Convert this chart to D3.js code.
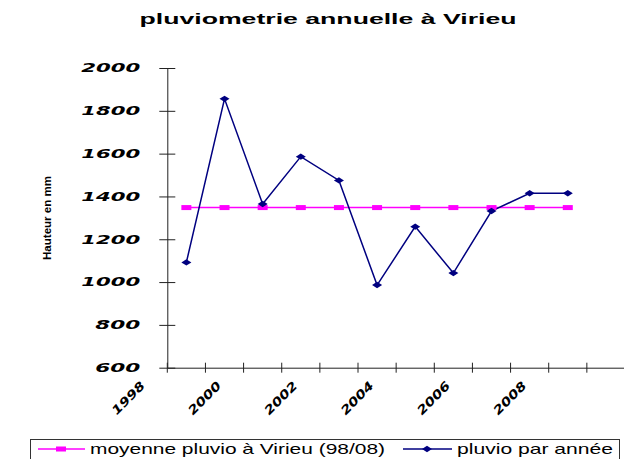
<!DOCTYPE html>
<html>
<head>
<meta charset="utf-8">
<script src="https://cdn.jsdelivr.net/npm/d3@7"></script>
<style>
  body { margin: 0; background: #fff; }
  svg { display: block; font-family: "Liberation Sans", Arial, sans-serif; }
</style>
</head>
<body>
<div id="chart"></div>
<script>
// categories (2009 is an empty slot on the axis)
const years = [1998, 1999, 2000, 2001, 2002, 2003, 2004, 2005, 2006, 2007, 2008, 2009];
const yearLabels = ["1998", "2000", "2002", "2004", "2006", "2008"];
// series
const pluvioYears = [1998, 1999, 2000, 2001, 2002, 2003, 2004, 2005, 2006, 2007, 2008];
const pluvioParAnnee = [1092, 1856, 1365, 1586, 1475, 986, 1259, 1042, 1332, 1415, 1415];
const moyenne = [1348, 1348, 1348, 1348, 1348, 1348, 1348, 1348, 1348, 1348, 1348];
const yTicks = [600, 800, 1000, 1200, 1400, 1600, 1800, 2000];

const width = 624, height = 459;
const plotLeft = 167.3, plotRight = 625, plotTop = 68, plotBottom = 367.7;

let svg = d3.select("#chart")
    .append("svg")
    .attr("width", width)
    .attr("height", height);

let x = d3.scaleBand()
    .domain(years)
    .range([plotLeft, plotRight])
    .padding(0);
const bw = x.bandwidth();
const cx = d => x(d) + bw / 2;

let y = d3.scaleLinear()
    .domain([600, 2000])
    .range([plotBottom, plotTop]);

// Title
svg.append("text")
    .attr("x", 328)
    .attr("y", 24)
    .attr("text-anchor", "middle")
    .attr("font-size", 15)
    .attr("font-weight", "bold")
    .attr("textLength", 377)
    .attr("lengthAdjust", "spacingAndGlyphs")
    .text("pluviometrie annuelle à Virieu");

// Y axis
let yAxis = d3.axisLeft(y)
    .tickValues(yTicks)
    .tickFormat(d3.format("d"))
    .tickSizeInner(8)
    .tickSizeOuter(0)
    .tickPadding(19);

let yg = svg.append("g")
    .attr("transform", `translate(${plotLeft},0)`)
    .call(yAxis);
yg.select(".domain").attr("stroke", "#222");
yg.selectAll(".tick line").attr("x1", 8).attr("stroke", "#222");
yg.selectAll(".tick text")
    .attr("fill", "#000")
    .attr("font-size", 12)
    .attr("font-weight", "bold")
    .attr("font-style", "italic")
    .attr("font-family", "'DejaVu Sans', sans-serif")
    .attr("textLength", d => String(d).length === 4 ? 59 : 45)
    .attr("lengthAdjust", "spacingAndGlyphs");

// X axis (ticks between categories)
let xAxis = d3.axisBottom(x)
    .tickSizeInner(5)
    .tickSizeOuter(0)
    .tickFormat("");

let xg = svg.append("g")
    .attr("transform", `translate(0,${plotBottom})`)
    .call(xAxis);
xg.select(".domain").attr("stroke", "#222");
xg.selectAll(".tick line")
    .attr("transform", `translate(${-bw / 2},0)`)
    .attr("y1", -5)
    .attr("stroke", "#222");

// X labels, rotated
svg.append("g")
    .selectAll("text")
    .data(yearLabels)
    .enter().append("text")
    .attr("transform", d => `translate(${x(+d) - 39},398) rotate(-45)`)
    .attr("text-anchor", "middle")
    .attr("dy", "0.35em")
    .attr("font-size", 12)
    .attr("font-weight", "bold")
    .attr("font-style", "italic")
    .attr("font-family", "'DejaVu Sans', sans-serif")
    .attr("textLength", 41)
    .attr("lengthAdjust", "spacingAndGlyphs")
    .text(d => d);

// Y axis title
svg.append("text")
    .attr("transform", "translate(51,218) rotate(-90)")
    .attr("text-anchor", "middle")
    .attr("font-size", 11)
    .attr("font-weight", "bold")
    .attr("textLength", 84)
    .attr("lengthAdjust", "spacingAndGlyphs")
    .text("Hauteur en mm");

// Lines
let line = d3.line()
    .x((d, i) => cx(pluvioYears[i]))
    .y(d => y(d));

svg.append("path")
    .datum(moyenne)
    .attr("d", line)
    .attr("fill", "none")
    .attr("stroke", "#FF00FF")
    .attr("stroke-width", 1.5);

svg.append("path")
    .datum(pluvioParAnnee)
    .attr("d", line)
    .attr("fill", "none")
    .attr("stroke", "#000080")
    .attr("stroke-width", 1.5);

// Markers
const diamond = "M0,-3.2L5,0L0,3.2L-5,0Z";

svg.append("g")
    .selectAll("rect")
    .data(moyenne)
    .enter().append("rect")
    .attr("x", (d, i) => cx(pluvioYears[i]) - 5)
    .attr("y", d => y(d) - 2.5)
    .attr("width", 10)
    .attr("height", 5)
    .attr("fill", "#FF00FF");

svg.append("g")
    .selectAll("path")
    .data(pluvioParAnnee)
    .enter().append("path")
    .attr("d", diamond)
    .attr("transform", (d, i) => `translate(${cx(pluvioYears[i])},${y(d)})`)
    .attr("fill", "#000080");

// Legend
let legend = svg.append("g");
legend.append("rect")
    .attr("x", 30.5)
    .attr("y", 439.5)
    .attr("width", 589)
    .attr("height", 30)
    .attr("fill", "none")
    .attr("stroke", "#333");

legend.append("line")
    .attr("x1", 38).attr("x2", 85)
    .attr("y1", 449).attr("y2", 449)
    .attr("stroke", "#FF00FF").attr("stroke-width", 1.5);
legend.append("rect")
    .attr("x", 56).attr("y", 446.5)
    .attr("width", 10).attr("height", 5)
    .attr("fill", "#FF00FF");
legend.append("text")
    .attr("x", 90).attr("y", 454)
    .attr("font-size", 15)
    .attr("textLength", 295)
    .attr("lengthAdjust", "spacingAndGlyphs")
    .text("moyenne pluvio à Virieu (98/08)");

legend.append("line")
    .attr("x1", 403).attr("x2", 452)
    .attr("y1", 449).attr("y2", 449)
    .attr("stroke", "#000080").attr("stroke-width", 1.5);
legend.append("path")
    .attr("d", diamond)
    .attr("transform", "translate(427,449)")
    .attr("fill", "#000080");
legend.append("text")
    .attr("x", 457).attr("y", 454)
    .attr("font-size", 15)
    .attr("textLength", 156)
    .attr("lengthAdjust", "spacingAndGlyphs")
    .text("pluvio par année");
</script>
</body>
</html>
